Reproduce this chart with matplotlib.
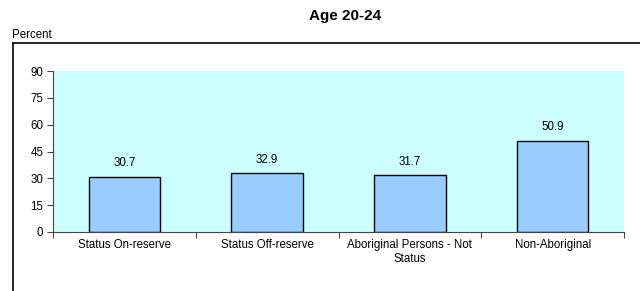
import matplotlib
matplotlib.use("Agg")
import matplotlib.pyplot as plt
from matplotlib.lines import Line2D

plt.rcParams['font.family'] = ['Liberation Sans', 'DejaVu Sans']

categories = ["Status On-reserve", "Status Off-reserve", "Aboriginal Persons - Not\nStatus", "Non-Aboriginal"]
values = [30.7, 32.9, 31.7, 50.9]
yticks = [0, 15, 30, 45, 60, 75, 90]

W, H = 640, 291
fig = plt.figure(figsize=(W / 100, H / 100), dpi=100)

# plot area in pixels: left 53, right 624, top 71, bottom 232
ax = fig.add_axes([53 / W, 1 - 232 / H, (624 - 53) / W, (232 - 71) / H])
ax.set_facecolor('#CCFFFF')

x = list(range(len(values)))
ax.bar(x, values, width=0.5, color='#99CCFF', edgecolor='black', linewidth=1.0)
for xi, v in zip(x, values):
    ax.annotate(f"{v:.1f}", (xi, v), xytext=(0, 5.5), textcoords='offset points',
                ha='center', va='bottom', fontsize=8.3)

ax.set_xlim(-0.5, len(values) - 0.5)
ax.set_ylim(0, 90)
ax.set_yticks(yticks)
ax.set_yticklabels([str(t) for t in yticks], fontsize=8.3)
ax.set_xticks([i - 0.5 for i in range(len(values) + 1)], minor=False)
ax.set_xticklabels([])
ax.set_xticks(x, minor=True)
ax.set_xticklabels(categories, minor=True, fontsize=8.3)
ax.tick_params(axis='x', which='minor', length=0, pad=5)
ax.tick_params(axis='x', which='major', length=4, direction='out', color='#444444')
ax.tick_params(axis='y', length=4, direction='out', pad=3, color='#444444')
for s in ['top', 'right']:
    ax.spines[s].set_visible(False)
ax.spines['left'].set_color('#444444')
ax.spines['bottom'].set_color('#444444')

fig.text(345 / W, 1 - 16 / H, "Age 20-24", ha='center', va='center', fontsize=11, fontweight='bold')
fig.text(12 / W, 1 - 35 / H, "Percent", ha='left', va='center', fontsize=8.3)

# outer frame (left and top lines)
fig.add_artist(Line2D([12.5 / W, 12.5 / W], [0, 1 - 43 / H], transform=fig.transFigure, color='black', lw=1.2))
fig.add_artist(Line2D([12.5 / W, 1], [1 - 43 / H, 1 - 43 / H], transform=fig.transFigure, color='black', lw=1.2))

fig.savefig("out.png", dpi=100)
